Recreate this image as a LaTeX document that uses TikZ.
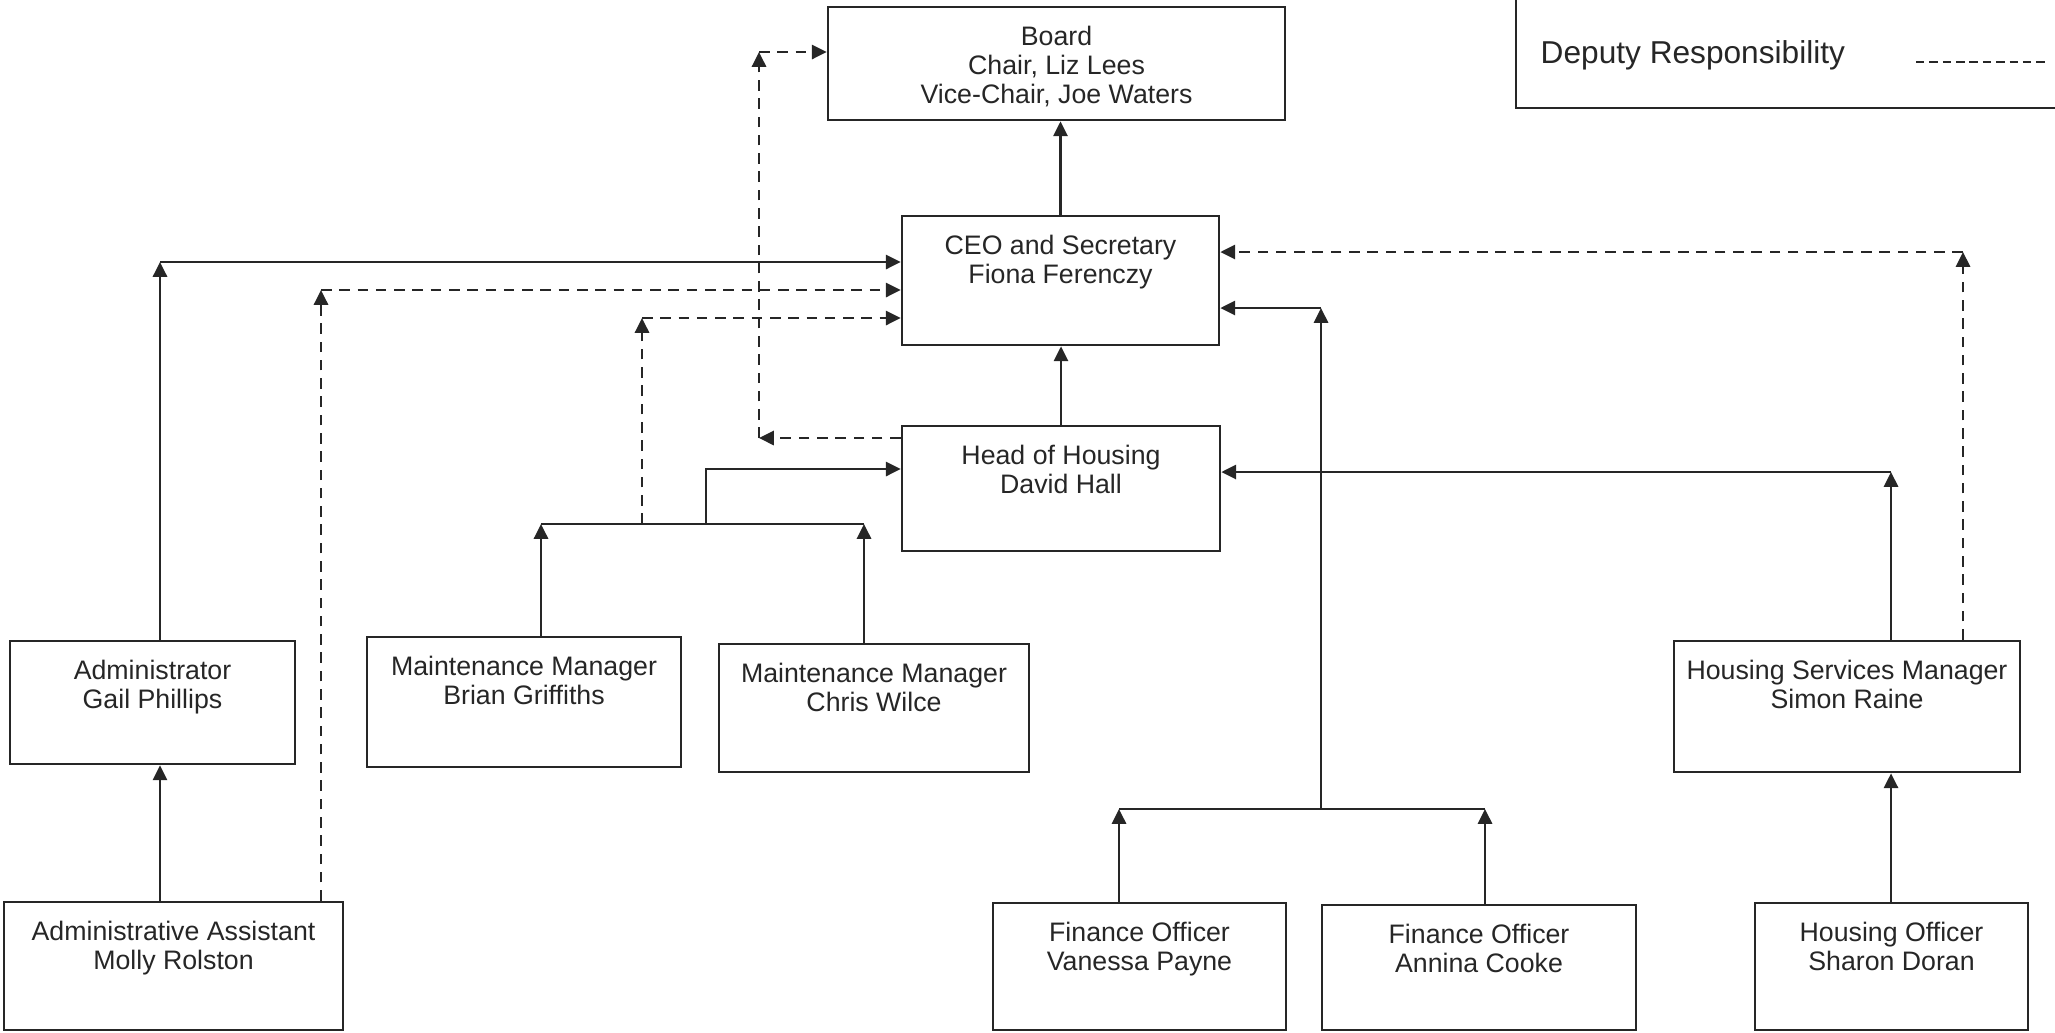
\documentclass[tikz,border=0pt]{standalone}
\usepackage{fontspec}
\setmainfont{Liberation Sans}
\usetikzlibrary{arrows.meta, fit}

\begin{document}
\begin{tikzpicture}[x=0.01cm, y=-0.01cm,
    post/.style={rectangle, draw=black!85, line width=0.75pt, inner sep=0pt},
    posttext/.style={anchor=north, align=center, inner xsep=0pt, inner ysep=5.5pt, text=black!85, font=\fontsize{7.6}{8.25}\selectfont},
    link/.style={-{Triangle[length=4.2pt, width=4pt]}, line width=0.75pt, draw=black!85},
    deputy/.style={link, dash pattern=on 3pt off 2.2pt}]
    \useasboundingbox (0,0) rectangle (2055,1032);

    % boxes
    \node (board) [post, fit={(828,7) (1285,120)}, label={[posttext]north:{Board\\Chair, Liz Lees\\Vice-Chair, Joe Waters}}] {};
    \node (ceo) [post, fit={(902,216) (1219,345)}, label={[posttext]north:{CEO and Secretary\\Fiona Ferenczy}}] {};
    \node (hoh) [post, fit={(902,426) (1220,551)}, label={[posttext]north:{Head of Housing\\David Hall}}] {};
    \node (admin) [post, fit={(10,641) (295,764)}, label={[posttext]north:{Administrator\\Gail Phillips}}] {};
    \node (assist) [post, fit={(4,902) (343,1030)}, label={[posttext]north:{Administrative Assistant\\Molly Rolston}}] {};
    \node (maintbg) [post, fit={(367,637) (681,767)}, label={[posttext]north:{Maintenance Manager\\Brian Griffiths}}] {};
    \node (maintcw) [post, fit={(719,644) (1029,772)}, label={[posttext]north:{Maintenance Manager\\Chris Wilce}}] {};
    \node (hsm) [post, fit={(1674,641) (2020,772)}, label={[posttext]north:{Housing Services Manager\\Simon Raine}}] {};
    \node (finvp) [post, fit={(993,903) (1286,1030)}, label={[posttext]north:{Finance Officer\\Vanessa Payne}}] {};
    \node (finac) [post, fit={(1322,905) (1636,1030)}, label={[posttext]north:{Finance Officer\\Annina Cooke}}] {};
    \node (hofficer) [post, fit={(1755,903) (2028,1030)}, label={[posttext]north:{Housing Officer\\Sharon Doran}}] {};

    % legend
    \draw [line width=0.75pt, black!85] (1516,0) -- (1516,108) -- (2055,108);
    \node (legend) [anchor=west, inner sep=0pt, text=black!85, font=\fontsize{9}{10}\selectfont] at (1540,55) {Deputy Responsibility};
    \coordinate (key-a) at (1916,62);
    \coordinate (key-b) at (2047,62);
    \draw [line width=0.5pt, black!85, dash pattern=on 2.4pt off 1.4pt] (key-a) -- (key-b);

    % corner points
    \coordinate (c-admin) at (160,262);
    \coordinate (c-assist) at (321,290);
    \coordinate (c-mbg) at (541,524);
    \coordinate (c-mcw) at (864,524);
    \coordinate (c-mhoh) at (706,469);
    \coordinate (c-mceo) at (642,318);
    \coordinate (c-hb1) at (759,438);
    \coordinate (c-hb2) at (759,52);
    \coordinate (c-fvp) at (1119,809);
    \coordinate (c-fac) at (1485,809);
    \coordinate (c-fceo) at (1321,308);
    \coordinate (c-hsm) at (1891,472);
    \coordinate (c-hsmceo) at (1963,252);

    % line management
    \draw [link] (ceo.north) -- (ceo.north |- board.south);
    \draw [link] (hoh.north) -- (hoh.north |- ceo.south);
    \draw [link] (admin.north -| c-admin) -- (c-admin);
    \draw [link] (c-admin) -- (c-admin -| ceo.west);
    \draw [link] (assist.north -| c-admin) -- (c-admin |- admin.south);
    \draw [link] (maintbg.north -| c-mbg) -- (c-mbg);
    \draw [link] (maintcw.north -| c-mcw) -- (c-mcw);
    \draw [line width=0.75pt, black!85] (c-mbg) -- (c-mcw);
    \draw [link] (c-mhoh |- c-mbg) -- (c-mhoh) -- (c-mhoh -| hoh.west);
    \draw [link] (finvp.north -| c-fvp) -- (c-fvp);
    \draw [link] (finac.north -| c-fac) -- (c-fac);
    \draw [line width=0.75pt, black!85] (c-fvp) -- (c-fac);
    \draw [link] (c-fceo |- c-fvp) -- (c-fceo);
    \draw [link] (c-fceo) -- (c-fceo -| ceo.east);
    \draw [link] (hsm.north -| c-hsm) -- (c-hsm);
    \draw [link] (c-hsm) -- (c-hsm -| hoh.east);
    \draw [link] (hofficer.north -| c-hsm) -- (c-hsm |- hsm.south);

    % deputy responsibility
    \draw [deputy] (assist.north -| c-assist) -- (c-assist);
    \draw [deputy] (c-assist) -- (c-assist -| ceo.west);
    \draw [deputy] (c-mceo |- c-mbg) -- (c-mceo);
    \draw [deputy] (c-mceo) -- (c-mceo -| ceo.west);
    \draw [deputy] (c-hb1 -| hoh.west) -- (c-hb1);
    \draw [deputy] (c-hb1) -- (c-hb2);
    \draw [deputy] (c-hb2) -- (c-hb2 -| board.west);
    \draw [deputy] (hsm.north -| c-hsmceo) -- (c-hsmceo);
    \draw [deputy] (c-hsmceo) -- (c-hsmceo -| ceo.east);
\end{tikzpicture}
\end{document}
